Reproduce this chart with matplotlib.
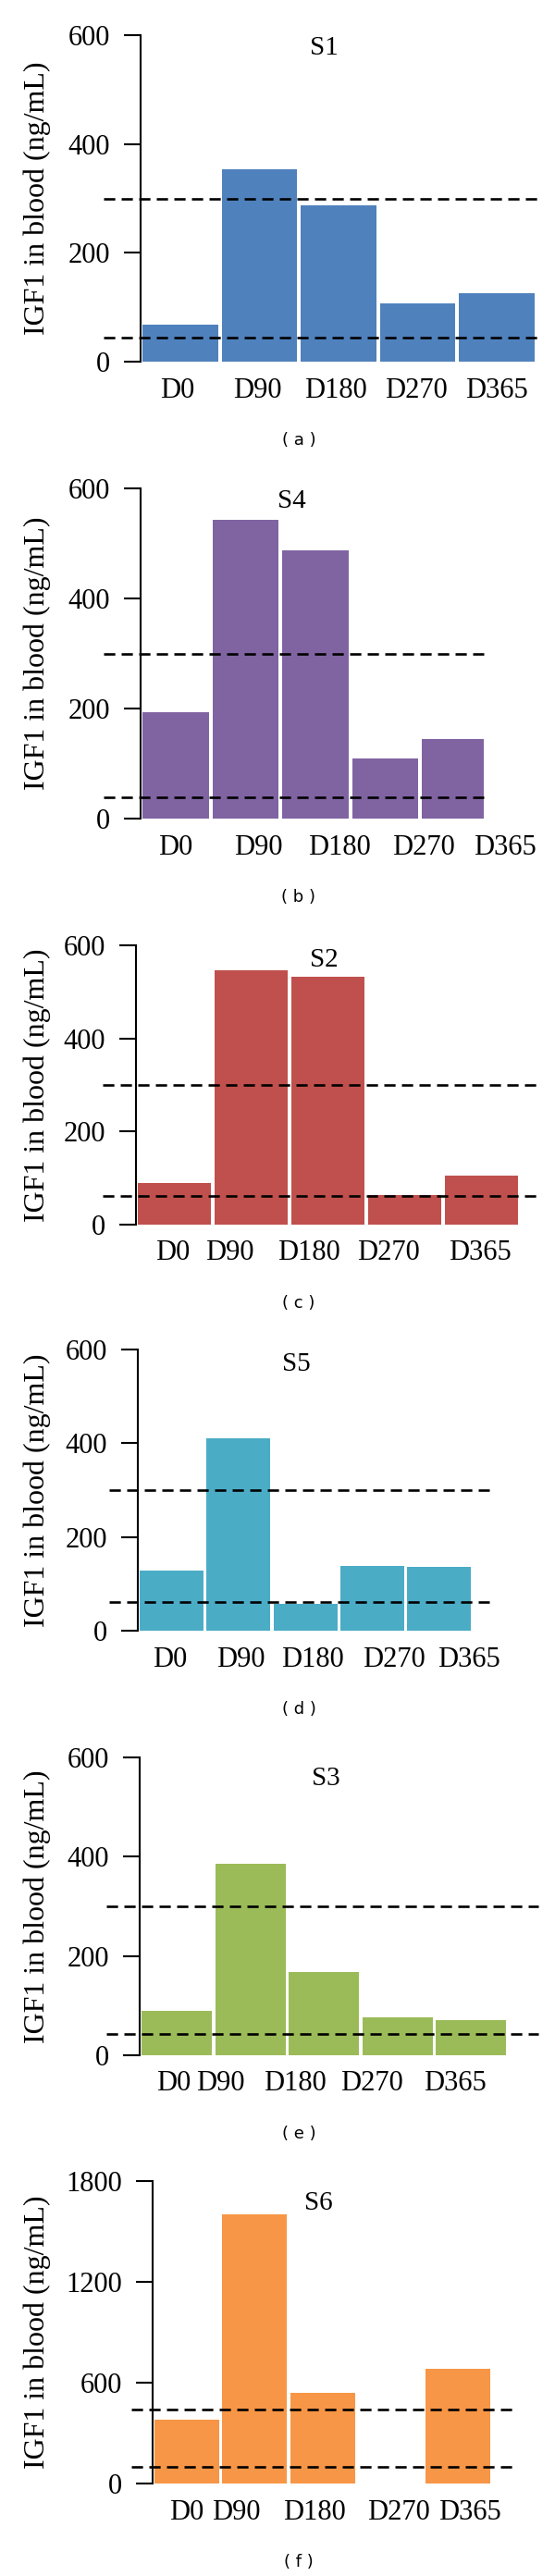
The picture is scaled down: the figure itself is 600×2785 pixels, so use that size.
import numpy as np
import matplotlib
matplotlib.use("Agg")
import matplotlib.pyplot as plt
from matplotlib.transforms import blended_transform_factory

# IGF1 values (ng/mL)
days = ["D0", "D90", "D180", "D270", "D365"]
s1 = [68, 354, 288, 107, 125]
s4 = [194, 543, 488, 110, 145]
s2 = [89, 546, 532, 63, 106]
s5 = [128, 410, 58, 138, 137]
s3 = [89, 385, 168, 77, 71]
s6 = [380, 1602, 538, np.nan, 680]

names = ["S1", "S4", "S2", "S5", "S3", "S6"]
tags = ["a", "b", "c", "d", "e", "f"]
upper = [300, 300, 300, 300, 300, 441]
lower = [44, 38, 62, 62, 42, 97]
ymax = [600, 600, 600, 600, 600, 1800]
ystep = [200, 200, 200, 200, 200, 600]
colors = ["#4F81BD", "#8064A2", "#C0504D", "#4BACC6", "#9BBB59", "#F79646"]
series = [s1, s4, s2, s5, s3, s6]

W, H = 600, 2785
plt.rcParams['font.family'] = ['Liberation Serif', 'DejaVu Serif']

# pixel layout of each panel (axis x, first bar left, bar width, pitch,
# dash start/end, top tick y, zero y, title xy, tick label x's, label y)
layout = [
    dict(ax=152, l0=154, w=81.5, p=85.5, d0=112, d1=582, yt=38, y0=391,
         tx=350, ty=52, lx=[192, 278, 363, 450, 537], ly=423),
    dict(ax=152, l0=154, w=71.5, p=75.5, d0=112, d1=523, yt=528, y0=885,
         tx=315, ty=542, lx=[190, 279, 367, 458, 546], ly=917),
    dict(ax=147, l0=149, w=79, p=83, d0=111, d1=581, yt=1022, y0=1324,
         tx=350, ty=1038, lx=[187, 248, 334, 420, 519], ly=1355),
    dict(ax=149, l0=151, w=69, p=72.25, d0=118, d1=529, yt=1459, y0=1763,
         tx=320, ty=1475, lx=[184, 260, 338, 426, 507], ly=1795),
    dict(ax=151, l0=153, w=76, p=79.5, d0=115, d1=582, yt=1900, y0=2222,
         tx=352, ty=1923, lx=[188, 238, 319, 402, 492], ly=2253),
    dict(ax=165, l0=167, w=70, p=73.25, d0=142, d1=556, yt=2358, y0=2685,
         tx=344, ty=2382, lx=[202, 255, 340, 431, 508], ly=2717),
]


def fx(px):
    return px / W


def fy(py):
    return 1 - py / H


fig = plt.figure(figsize=(W / 100, H / 100), dpi=100)

for k, lay in enumerate(layout):
    rect = [fx(lay["ax"]), fy(lay["y0"]), (lay["d1"] - lay["ax"]) / W,
            (lay["y0"] - lay["yt"]) / H]
    ax = fig.add_axes(rect)
    c0 = lay["l0"] + lay["w"] / 2
    p = lay["p"]
    xs = np.arange(len(days))
    ax.bar(xs, series[k], width=lay["w"] / p, color=colors[k],
           edgecolor="none", zorder=2)
    ax.set_xlim((lay["ax"] - c0) / p, (lay["d1"] - c0) / p)
    ax.set_ylim(0, ymax[k])

    # reference range lines
    dx0 = (lay["d0"] - c0) / p
    dx1 = (lay["d1"] - c0) / p
    for v in (upper[k], lower[k]):
        ax.plot([dx0, dx1], [v, v], color="black", lw=1.9,
                dashes=(4.6, 2.6), clip_on=False, zorder=3)

    for s in ("top", "right", "bottom"):
        ax.spines[s].set_visible(False)
    ax.spines["left"].set_linewidth(1.5)
    ax.set_yticks(np.arange(0, ymax[k] + 1, ystep[k]))
    ax.tick_params(axis="y", length=13, width=1.5, pad=11, labelsize=22)
    ax.set_xticks([])

    trans = blended_transform_factory(ax.transData, fig.transFigure)
    for lab, px in zip(days, lay["lx"]):
        ax.text((px - c0) / p, fy(lay["ly"]), lab, transform=trans,
                ha="center", va="center", fontsize=22, clip_on=False)

    fig.text(fx(lay["tx"]), fy(lay["ty"]), names[k], ha="center",
             va="center", fontsize=21)
    fig.text(fx(40), fy((lay["yt"] + lay["y0"]) / 2),
             "IGF1 in blood (ng/mL)", rotation=90, ha="center",
             va="center", fontsize=23)
    fig.text(fx(323), fy(lay["y0"] + 85), "( %s )" % tags[k],
             ha="center", va="center", fontsize=13, family="DejaVu Sans")

fig.savefig("out.png", dpi=100)
